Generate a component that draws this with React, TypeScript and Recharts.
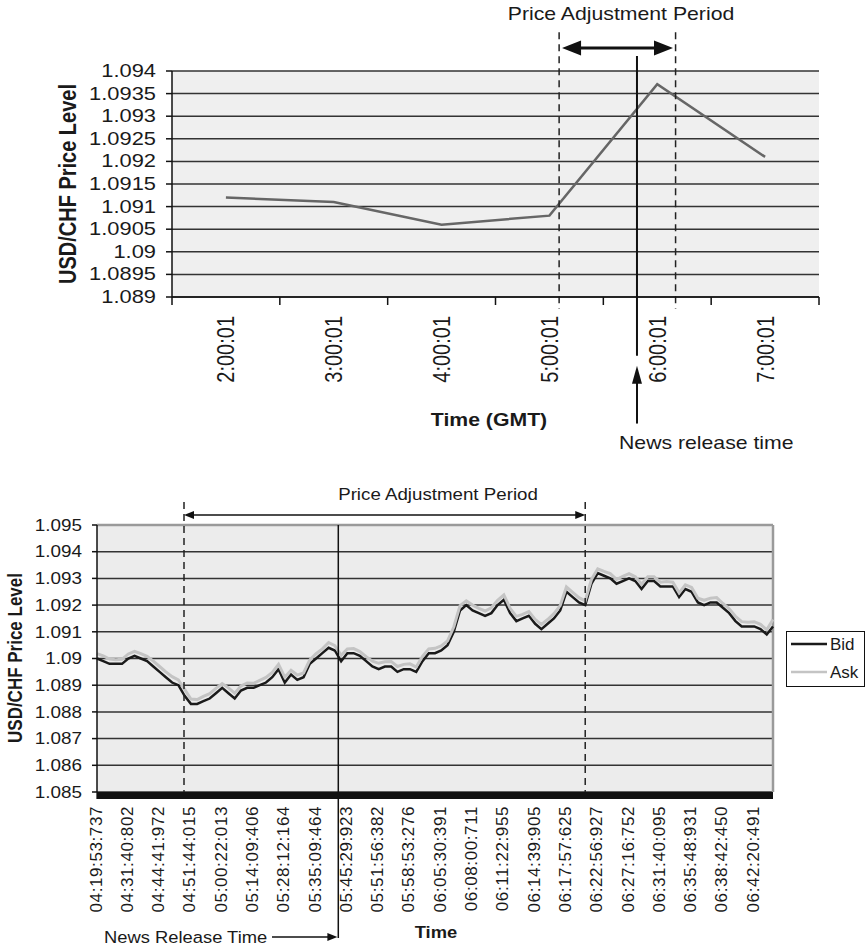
import React from "react";
import {
    LineChart,
    Line,
    XAxis,
    YAxis,
    CartesianGrid,
    ReferenceLine,
    ReferenceArea,
    Legend,
} from "recharts";

const FONT = '"Liberation Sans", Arial, Helvetica, sans-serif';

// top chart: hourly USD/CHF closes
const hourLabels = ["2:00:01", "3:00:01", "4:00:01", "5:00:01", "6:00:01", "7:00:01"];
const hourPrices = [1.0912, 1.0911, 1.0906, 1.0908, 1.09371, 1.0921];
const hourTicks = [1.089, 1.0895, 1.09, 1.0905, 1.091, 1.0915, 1.092, 1.0925, 1.093, 1.0935, 1.094];

// bottom chart: tick-by-tick bid / ask (labels every 5th point)
const tickTimes = [
    "04:19:53:737", "04:31:40:802", "04:44:41:972", "04:51:44:015", "05:00:22:013", "05:14:09:406",
    "05:28:12:164", "05:35:09:464", "05:45:29:923", "05:51:56:382", "05:58:53:276", "06:05:30:391",
    "06:08:00:711", "06:11:22:955", "06:14:39:905", "06:17:57:625", "06:22:56:927", "06:27:16:752",
    "06:31:40:095", "06:35:48:931", "06:38:42:450", "06:42:20:491",
];
const labelStep = 5;
const bidPrices = [
    1.0900, 1.0899, 1.0898, 1.0898, 1.0898, 1.0900, 1.0901, 1.0900, 1.0899, 1.0897,
    1.0895, 1.0893, 1.0891, 1.0890, 1.0886, 1.0883, 1.0883, 1.0884, 1.0885, 1.0887,
    1.0889, 1.0887, 1.0885, 1.0888, 1.0889, 1.0889, 1.0890, 1.0891, 1.0893, 1.0896,
    1.0891, 1.0894, 1.0892, 1.0893, 1.0898, 1.0900, 1.0902, 1.0904, 1.0903, 1.0899,
    1.0902, 1.0902, 1.0901, 1.0899, 1.0897, 1.0896, 1.0897, 1.0897, 1.0895, 1.0896,
    1.0896, 1.0895, 1.0899, 1.0902, 1.0902, 1.0903, 1.0905, 1.0910, 1.0918, 1.0920,
    1.0918, 1.0917, 1.0916, 1.0917, 1.0920, 1.0922, 1.0917, 1.0914, 1.0915, 1.0916,
    1.0913, 1.0911, 1.0913, 1.0915, 1.0918, 1.0925, 1.0923, 1.0921, 1.0920, 1.0928,
    1.0932, 1.0931, 1.0930, 1.0928, 1.0929, 1.0930, 1.0929, 1.0926, 1.0929, 1.0929,
    1.0927, 1.0927, 1.0927, 1.0923, 1.0926, 1.0925, 1.0921, 1.0920, 1.0921, 1.0921,
    1.0919, 1.0917, 1.0914, 1.0912, 1.0912, 1.0912, 1.0911, 1.0909, 1.0912,
];
const askPrices = [
    1.09018, 1.09010, 1.08998, 1.08995, 1.08997, 1.09017, 1.09027, 1.09018, 1.09008, 1.08990,
    1.08970, 1.08950, 1.08932, 1.08920, 1.08885, 1.08848, 1.08846, 1.08858, 1.08868, 1.08888,
    1.08906, 1.08890, 1.08870, 1.08897, 1.08908, 1.08907, 1.08918, 1.08929, 1.08948, 1.08978,
    1.08930, 1.08956, 1.08938, 1.08946, 1.08995, 1.09018, 1.09036, 1.09060, 1.09048, 1.09012,
    1.09036, 1.09037, 1.09026, 1.09007, 1.08990, 1.08982, 1.08988, 1.08989, 1.08970, 1.08978,
    1.08980, 1.08968, 1.09008, 1.09036, 1.09038, 1.09047, 1.09066, 1.09118, 1.09198, 1.09216,
    1.09200, 1.09188, 1.09178, 1.09190, 1.09218, 1.09238, 1.09188, 1.09158, 1.09165, 1.09176,
    1.09146, 1.09128, 1.09146, 1.09168, 1.09198, 1.09268, 1.09248, 1.09228, 1.09216, 1.09296,
    1.09336, 1.09326, 1.09318, 1.09296, 1.09308, 1.09318, 1.09306, 1.09278, 1.09306, 1.09306,
    1.09286, 1.09288, 1.09286, 1.09246, 1.09276, 1.09266, 1.09226, 1.09218, 1.09226, 1.09228,
    1.09206, 1.09186, 1.09158, 1.09138, 1.09136, 1.09138, 1.09128, 1.09108, 1.09146,
];
const quoteTicks = [1.085, 1.086, 1.087, 1.088, 1.089, 1.09, 1.091, 1.092, 1.093, 1.094, 1.095];
const seriesOrder = ["Bid", "Ask"];

const hourData = hourLabels.map((time, i) => ({ time, slot: i, price: hourPrices[i] }));
const quoteData = bidPrices.map((bid, i) => ({ i, bid, ask: askPrices[i] }));
const quoteTickIdx = tickTimes.map((_, k) => k * labelStep);

const fmt = (v: number) => String(Number(v.toFixed(4)));

// text with a horizontal stretch like the scanned original
const Txt = ({ x, y, size, bold, anchor = "start", rot, sx = 1, ls, children }: any) => (
    <text
        transform={`translate(${x} ${y}) scale(${sx} 1)${rot ? ` rotate(${rot})` : ""}`}
        fontFamily={FONT}
        fontSize={size}
        fontWeight={bold ? "bold" : "normal"}
        textAnchor={anchor}
        letterSpacing={ls}
        fill="#1a1a1a"
    >
        {children}
    </text>
);

// reference line drawn with arrow heads
const arrowShape = (start: boolean, end: boolean, len: number, half: number, width: number) => (p: any) => {
    const { x1, y1, x2, y2 } = p;
    const d = Math.hypot(x2 - x1, y2 - y1) || 1;
    const ux = (x2 - x1) / d;
    const uy = (y2 - y1) / d;
    const head = (tx: number, ty: number, dir: number) => {
        const bx = tx - dir * ux * len;
        const by = ty - dir * uy * len;
        return `${tx},${ty} ${bx - uy * half},${by + ux * half} ${bx + uy * half},${by - ux * half}`;
    };
    const sx = start ? x1 + ux * len * 0.7 : x1;
    const sy = start ? y1 + uy * len * 0.7 : y1;
    const ex = end ? x2 - ux * len * 0.7 : x2;
    const ey = end ? y2 - uy * len * 0.7 : y2;
    return (
        <g>
            <line x1={sx} y1={sy} x2={ex} y2={ey} stroke="#111" strokeWidth={width} />
            {start && <polygon points={head(x1, y1, -1)} fill="#111" />}
            {end && <polygon points={head(x2, y2, 1)} fill="#111" />}
        </g>
    );
};

const NoTick = () => <g />;

const HourYTick = ({ x, y, payload }: any) => (
    <Txt x={x} y={y + 6} size={17.5} sx={1.25} anchor="end">{fmt(payload.value)}</Txt>
);

const HourXTick = ({ x, y, payload }: any) => (
    <Txt x={x + 8.5} y={y + 18} size={20} sx={1.18} rot={-90} anchor="end">{payload.value}</Txt>
);

const QuoteYTick = ({ x, y, payload }: any) => (
    <Txt x={x} y={y + 5.7} size={16} sx={1.18} anchor="end">{fmt(payload.value)}</Txt>
);

const QuoteXTick = ({ x, y, payload }: any) => (
    <Txt x={x + 4.5} y={y + 14} size={17} ls={0.6} rot={-90} anchor="end">
        {tickTimes[Math.round(payload.value / labelStep)]}
    </Txt>
);

const QuoteLegend = ({ payload }: any) => {
    const items = [...(payload || [])].sort(
        (a: any, b: any) => seriesOrder.indexOf(a.value) - seriesOrder.indexOf(b.value)
    );
    return (
        <div style={{ width: 79, height: 56, border: "1px solid #111", background: "#fff", boxSizing: "border-box" }}>
            <svg width={77} height={54} style={{ display: "block" }}>
                {items.map((p: any, i: number) => (
                    <g key={p.value}>
                        <line x1={4} x2={40} y1={12 + i * 28} y2={12 + i * 28} stroke={p.color} strokeWidth={2.5} />
                        <Txt x={43} y={18 + i * 28} size={17}>{p.value}</Txt>
                    </g>
                ))}
            </svg>
        </div>
    );
};

// axis "a" draws the band edges (tick marks), axis "b" the hour labels at band centres
const HourChart = () => (
    <LineChart width={866} height={470} data={hourData} margin={{ top: 71, right: 47, left: 92, bottom: 52 }}>
        <CartesianGrid xAxisId="a" vertical={false} stroke="#333" strokeWidth={1.5} fill="#efefef" />
        <XAxis
            xAxisId="a"
            dataKey="slot"
            type="number"
            domain={[0, 6]}
            ticks={[0, 1, 2, 3, 4, 5, 6]}
            interval={0}
            allowDataOverflow
            height={1}
            tick={<NoTick />}
            tickSize={8}
            tickLine={{ stroke: "#111", strokeWidth: 1.5 }}
            axisLine={{ stroke: "#111", strokeWidth: 1.5 }}
        />
        <XAxis
            xAxisId="b"
            dataKey="time"
            type="category"
            scale="band"
            height={120}
            interval={0}
            tickSize={0}
            tickMargin={0}
            axisLine={false}
            tickLine={false}
            tick={<HourXTick />}
        />
        <YAxis
            domain={[1.089, 1.094]}
            ticks={hourTicks}
            interval={0}
            width={80}
            tickSize={6}
            tickMargin={10}
            tick={<HourYTick />}
            tickLine={{ stroke: "#111", strokeWidth: 1.5 }}
            axisLine={{ stroke: "#111", strokeWidth: 1.5 }}
        />
        <Line
            xAxisId="b"
            dataKey="price"
            stroke="#666"
            strokeWidth={2.5}
            dot={false}
            isAnimationActive={false}
        />
        <ReferenceLine xAxisId="a" segment={[{ x: 3.59, y: 1.09486 }, { x: 3.59, y: 1.08874 }]} ifOverflow="visible" stroke="#222" strokeWidth={1.5} strokeDasharray="7 5" />
        <ReferenceLine xAxisId="a" segment={[{ x: 4.67, y: 1.09486 }, { x: 4.67, y: 1.08874 }]} ifOverflow="visible" stroke="#222" strokeWidth={1.5} strokeDasharray="7 5" />
        <ReferenceLine xAxisId="a" segment={[{ x: 4.312, y: 1.09433 }, { x: 4.312, y: 1.0877 }]} ifOverflow="visible" stroke="#111" strokeWidth={2} />
        <ReferenceLine
            xAxisId="a"
            segment={[{ x: 3.617, y: 1.09451 }, { x: 4.646, y: 1.09451 }]}
            ifOverflow="visible"
            shape={arrowShape(true, true, 19, 7.5, 3)}
        />
        <ReferenceLine
            xAxisId="a"
            segment={[{ x: 4.312, y: 1.0862 }, { x: 4.312, y: 1.08748 }]}
            ifOverflow="visible"
            shape={arrowShape(false, true, 18, 5, 2)}
        />
        <Txt x={621} y={20} size={18} sx={1.18} anchor="middle">Price Adjustment Period</Txt>
        <Txt x={489} y={426} size={18} sx={1.18} bold anchor="middle">Time (GMT)</Txt>
        <Txt x={619} y={449} size={18} sx={1.18}>News release time</Txt>
        <Txt x={76} y={184} size={20} sx={1.18} bold rot={-90} anchor="middle">USD/CHF Price Level</Txt>
    </LineChart>
);

const QuoteChart = () => (
    <LineChart width={866} height={476} data={quoteData} margin={{ top: 55, right: 93, left: 37, bottom: 34 }}>
        <CartesianGrid vertical={false} stroke="#333" strokeWidth={1.5} fill="#ececec" />
        <XAxis
            dataKey="i"
            type="number"
            domain={[0, 108]}
            ticks={quoteTickIdx}
            interval={0}
            height={120}
            tickSize={0}
            tickMargin={0}
            axisLine={false}
            tickLine={false}
            tick={<QuoteXTick />}
        />
        <YAxis
            domain={[1.085, 1.095]}
            ticks={quoteTicks}
            interval={0}
            width={60}
            tickSize={5}
            tickMargin={10}
            tick={<QuoteYTick />}
            tickLine={{ stroke: "#111", strokeWidth: 1.5 }}
            axisLine={{ stroke: "#111", strokeWidth: 1.5 }}
        />
        <ReferenceLine y={1.095} stroke="#9a9a9a" strokeWidth={2.5} />
        <ReferenceLine x={108} stroke="#9a9a9a" strokeWidth={2.5} />
        <ReferenceArea x1={-0.1} x2={108} y1={1.08474} y2={1.085} fill="#111" fillOpacity={1} ifOverflow="visible" />
        <Line dataKey="bid" name="Bid" stroke="#1a1a1a" strokeWidth={2.5} dot={false} isAnimationActive={false} />
        <Line dataKey="ask" name="Ask" stroke="#c4c4c4" strokeWidth={3} dot={false} isAnimationActive={false} />
        <ReferenceLine segment={[{ x: 13.9, y: 1.09586 }, { x: 13.9, y: 1.085 }]} ifOverflow="visible" stroke="#222" strokeWidth={1.5} strokeDasharray="7 5" />
        <ReferenceLine segment={[{ x: 78, y: 1.09586 }, { x: 78, y: 1.085 }]} ifOverflow="visible" stroke="#222" strokeWidth={1.5} strokeDasharray="7 5" />
        <ReferenceLine segment={[{ x: 38.55, y: 1.095 }, { x: 38.55, y: 1.07953 }]} ifOverflow="visible" stroke="#111" strokeWidth={1.5} />
        <ReferenceLine
            segment={[{ x: 13.9, y: 1.09537 }, { x: 78, y: 1.09537 }]}
            ifOverflow="visible"
            shape={arrowShape(true, true, 10, 4, 1.5)}
        />
        <ReferenceLine
            segment={[{ x: 27.96, y: 1.07957 }, { x: 38.4, y: 1.07957 }]}
            ifOverflow="visible"
            shape={arrowShape(false, true, 10, 4, 1.5)}
        />
        <Legend
            layout="horizontal"
            verticalAlign="middle"
            align="center"
            wrapperStyle={{ left: 786, top: 161, width: 79, height: 56 }}
            content={<QuoteLegend />}
        />
        <Txt x={438} y={30} size={16} sx={1.17} anchor="middle">Price Adjustment Period</Txt>
        <Txt x={104} y={472.5} size={17} sx={1.08}>News Release Time</Txt>
        <Txt x={436} y={468} size={17} sx={1.08} bold anchor="middle">Time</Txt>
        <Txt x={22} y={188} size={17} sx={1.18} bold rot={-90} anchor="middle">USD/CHF Price Level</Txt>
    </LineChart>
);

const App = () => (
    <div style={{ position: "absolute", left: 0, top: 0, width: 866, height: 946, background: "#fff" }}>
        <HourChart />
        <QuoteChart />
    </div>
);

export default App;
